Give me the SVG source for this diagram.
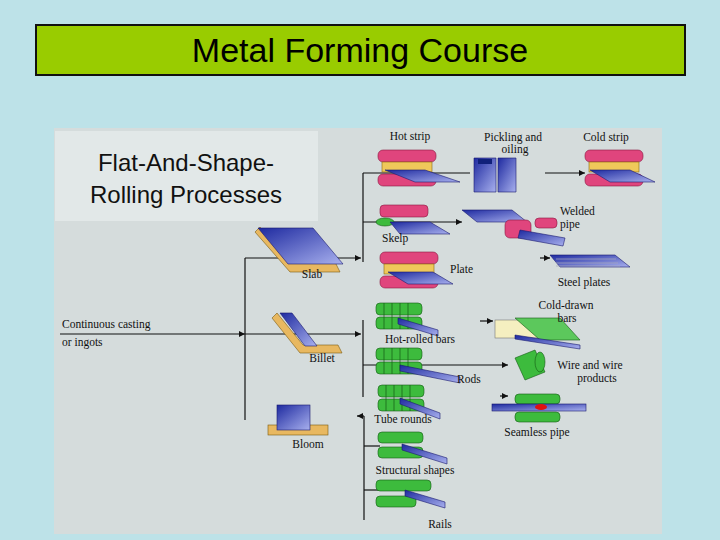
<svg xmlns="http://www.w3.org/2000/svg" xmlns:xlink="http://www.w3.org/1999/xlink" width="720" height="540" viewBox="0 0 720 540">
<style>
.t{font-family:"Liberation Serif",serif;font-size:11.5px;fill:#111}
.ln{stroke:#111;stroke-width:1.2;fill:none}
.pk{fill:#e0457d;stroke:#8a1840;stroke-width:.6}
.ye{fill:#efc85a;stroke:#8a6a10;stroke-width:.6}
.bl{fill:url(#bg);stroke:#1a1a70;stroke-width:.6}
.gr{fill:#3dbb3d;stroke:#145a14;stroke-width:.6}
.tan{fill:#e8b860;stroke:#7a5a10;stroke-width:.6}
</style>
<defs>
<linearGradient id="bg" x1="0" y1="0" x2="1" y2="1"><stop offset="0" stop-color="#1e2aa0"/><stop offset="1" stop-color="#a8b0ee"/></linearGradient>
<marker id="a" viewBox="0 0 10 10" refX="10" refY="5" markerWidth="7" markerHeight="5" orient="auto"><path d="M0,0L10,5L0,10z" fill="#111"/></marker>
<g id="mill">
<rect class="pk" x="0" y="0" width="58" height="12" rx="5"/>
<rect class="ye" x="4" y="12" width="50" height="10"/>
<rect class="pk" x="0" y="24" width="58" height="12" rx="5"/>
</g>
<g id="groll">
<rect class="gr" x="0" y="0" width="46" height="12" rx="4"/>
<rect class="gr" x="0" y="14" width="46" height="12" rx="4"/>
<path d="M8,0v26M16,0v26M24,0v26M32,0v26" stroke="#145a14" stroke-width=".7"/>
</g>
</defs>
<rect width="720" height="540" fill="#bde2e8"/>
<g id="title"><rect x="36" y="25" width="649" height="50" fill="#99cc00" stroke="#111" stroke-width="2"/>
<text x="360" y="62" text-anchor="middle" font-family="Liberation Sans,Arial,sans-serif" font-size="34" fill="#000">Metal Forming Course</text></g>
<rect x="54" y="128" width="608" height="406" fill="#d5dcdc"/>
<g id="label"><rect x="55" y="131" width="263" height="90" fill="#e2e8e8"/>
<text x="186" y="171" text-anchor="middle" font-family="Liberation Sans,Arial,sans-serif" font-size="24" fill="#111">Flat-And-Shape-</text>
<text x="186" y="203" text-anchor="middle" font-family="Liberation Sans,Arial,sans-serif" font-size="24" fill="#111">Rolling Processes</text></g>
<g id="connectors">
<path class="ln" d="M60,334H245" marker-end="url(#a)"/>
<path class="ln" d="M245,258V420"/>
<path class="ln" d="M245,258H361" marker-end="url(#a)"/>
<path class="ln" d="M245,334H361" marker-end="url(#a)"/>
<path class="ln" d="M363,173V262"/>
<path class="ln" d="M363,173H470"/>
<path class="ln" d="M545,173H585" marker-end="url(#a)"/>
<path class="ln" d="M363,222H462" marker-end="url(#a)"/>
<path class="ln" d="M540,258H550" marker-end="url(#a)"/>
<path class="ln" d="M363,320V397"/>
<path class="ln" d="M363,365H508" marker-end="url(#a)"/>
<path class="ln" d="M480,321H493" marker-end="url(#a)"/>
<path class="ln" d="M500,396H508" marker-end="url(#a)"/>
<path class="ln" d="M364,416V520"/>
<path class="ln" d="M364,416H357" marker-end="url(#a)"/>
<path class="ln" d="M364,446H380"/>
<path class="ln" d="M364,490H380"/>
</g>
<g id="slab"><path class="tan" d="M255,232l35,40h50l-5,-10h-45l-30,-35z"/><path class="bl" d="M258,228l30,36h55l-30,-36z"/></g>
<g id="billet"><path class="tan" d="M272,318l28,35h42l-4,-8h-35l-26,-32z"/><path class="bl" d="M280,313l25,33h12l-25,-33z"/></g>
<g id="bloom"><rect class="tan" x="268" y="425" width="60" height="10"/><rect class="bl" x="277" y="405" width="33" height="25"/></g>
<g id="hotstrip"><use href="#mill" x="378" y="150"/><path class="bl" d="M385,170h40l35,12h-45z"/></g>
<g id="pickling"><path class="bl" d="M474,158h22v34h-22z"/><path class="bl" d="M498,158h18v34h-18z"/><rect x="478" y="159" width="14" height="5" fill="#10207a"/></g>
<g id="coldstrip"><use href="#mill" x="585" y="150"/><path class="bl" d="M590,170h40l25,12h-45z"/></g>
<g id="skelp"><rect class="pk" x="380" y="205" width="48" height="12" rx="4"/><ellipse class="gr" cx="385" cy="222" rx="9" ry="4"/><path class="bl" d="M390,222h40l20,12h-50z"/></g>
<g id="welded"><path class="bl" d="M462,210h50l15,12h-50z"/><rect class="pk" x="505" y="220" width="26" height="18" rx="5"/><rect class="pk" x="535" y="218" width="22" height="10" rx="4"/><path class="bl" d="M520,230l45,8l-2,8l-45,-8z"/></g>
<g id="plate"><use href="#mill" x="380" y="252"/><path class="bl" d="M388,272h45l20,12h-45z"/></g>
<g id="steelplates"><path class="bl" d="M550,255h65l15,12h-70z"/><path d="M556,259h60M556,263h62M556,266h64" stroke="#aab" stroke-width=".7"/></g>
<g id="hotrolled"><use href="#groll" x="376" y="303"/><path class="bl" d="M398,318l40,12v6l-40,-12z"/></g>
<g id="colddrawn"><rect x="495" y="320" width="45" height="18" fill="#f5efc0" stroke="#777" stroke-width=".6"/><path d="M515,318h45l20,22h-40z" fill="#5cc85c" stroke="#145a14" stroke-width=".6"/><path class="bl" d="M515,335l65,10v4l-65,-10z"/></g>
<g id="rods"><use href="#groll" x="376" y="348"/><path class="bl" d="M400,365l60,12v6l-60,-12z"/></g>
<g id="wire"><path class="gr" d="M515,358l20,-8l10,22l-20,8z"/><ellipse class="gr" cx="540" cy="362" rx="5" ry="10"/></g>
<g id="tuberounds"><use href="#groll" x="378" y="385"/><path class="bl" d="M400,398l40,15v6l-40,-15z"/></g>
<g id="seamless"><rect class="gr" x="515" y="394" width="45" height="10" rx="4"/><rect class="gr" x="515" y="412" width="45" height="10" rx="4"/><rect class="bl" x="492" y="404" width="94" height="7"/><ellipse cx="541" cy="407" rx="6" ry="3" fill="#e01010"/></g>
<g id="structural"><rect class="gr" x="378" y="432" width="45" height="11" rx="4"/><rect class="gr" x="378" y="447" width="45" height="11" rx="4"/><path class="bl" d="M402,444l45,14v6l-45,-14z"/></g>
<g id="rails"><rect class="gr" x="376" y="480" width="55" height="11" rx="4"/><rect class="gr" x="376" y="496" width="40" height="11" rx="4"/><path class="bl" d="M405,490l40,12v6l-40,-12z"/></g>
<g id="texts">
<text class="t" x="410" y="140" text-anchor="middle">Hot strip</text>
<text class="t" x="513" y="141" text-anchor="middle">Pickling and</text>
<text class="t" x="515" y="153" text-anchor="middle">oiling</text>
<text class="t" x="606" y="141" text-anchor="middle">Cold strip</text>
<text class="t" x="560" y="215">Welded</text>
<text class="t" x="560" y="228">pipe</text>
<text class="t" x="382" y="242">Skelp</text>
<text class="t" x="450" y="273">Plate</text>
<text class="t" x="584" y="286" text-anchor="middle">Steel plates</text>
<text class="t" x="312" y="278" text-anchor="middle">Slab</text>
<text class="t" x="566" y="309" text-anchor="middle">Cold-drawn</text>
<text class="t" x="567" y="322" text-anchor="middle">bars</text>
<text class="t" x="62" y="328">Continuous casting</text>
<text class="t" x="62" y="346">or ingots</text>
<text class="t" x="420" y="343" text-anchor="middle">Hot-rolled bars</text>
<text class="t" x="322" y="362" text-anchor="middle">Billet</text>
<text class="t" x="590" y="369" text-anchor="middle">Wire and wire</text>
<text class="t" x="597" y="382" text-anchor="middle">products</text>
<text class="t" x="457" y="383">Rods</text>
<text class="t" x="403" y="423" text-anchor="middle">Tube rounds</text>
<text class="t" x="537" y="436" text-anchor="middle">Seamless pipe</text>
<text class="t" x="308" y="448" text-anchor="middle">Bloom</text>
<text class="t" x="415" y="474" text-anchor="middle">Structural shapes</text>
<text class="t" x="440" y="528" text-anchor="middle">Rails</text>
</g>
</svg>
